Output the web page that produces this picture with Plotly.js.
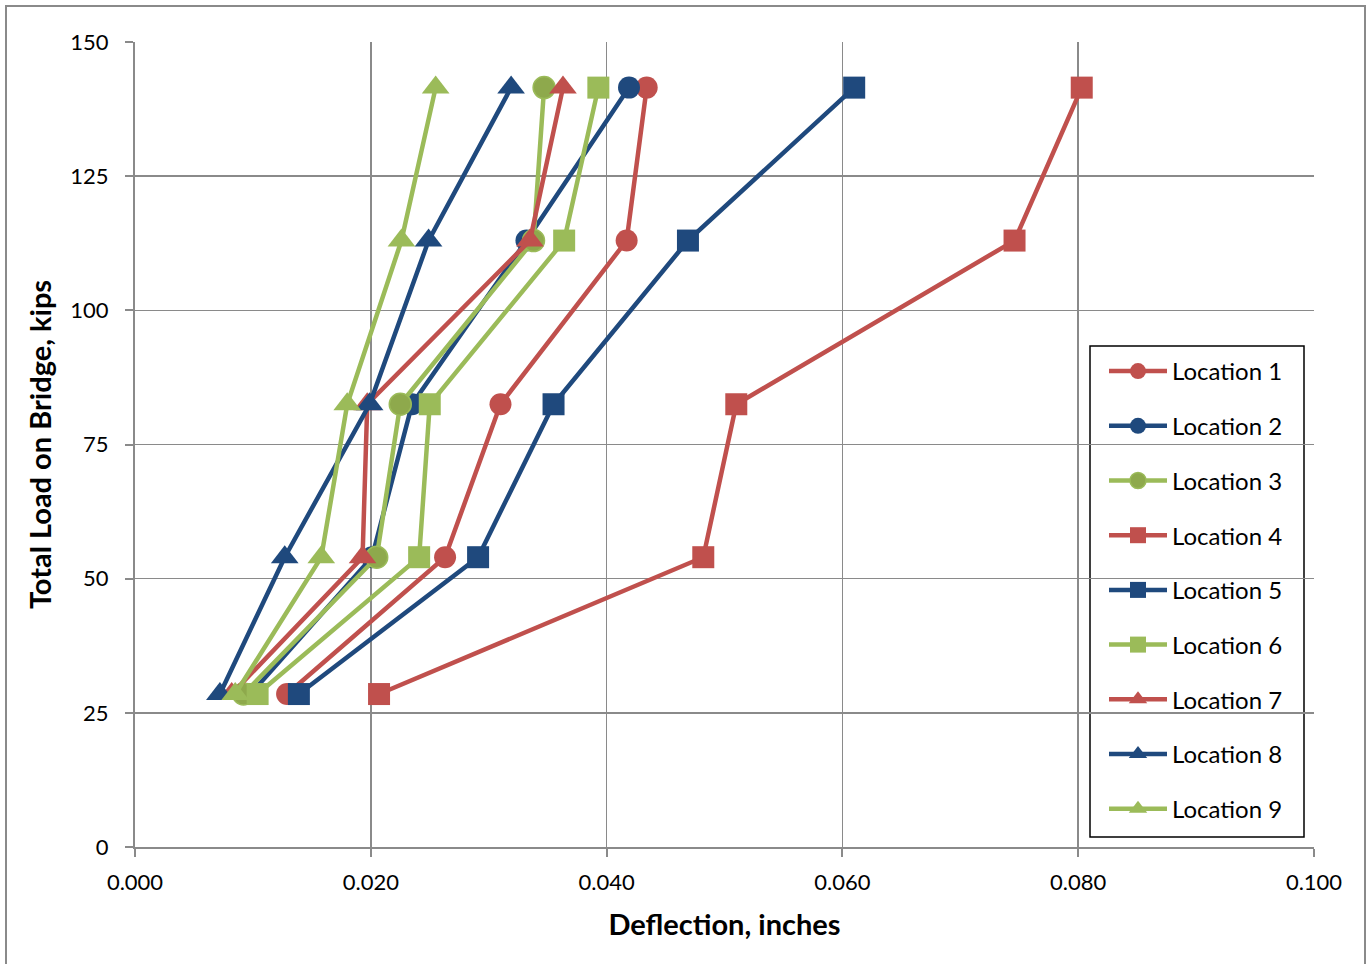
<!DOCTYPE html>
<html>
<head>
<meta charset="utf-8">
<script src="https://cdn.plot.ly/plotly-3.0.1.min.js"></script>
<style>
html,body{margin:0;padding:0;background:#fff;}
#frame{position:absolute;left:5px;top:5px;width:1361px;height:975px;border:2px solid #8a8a8a;box-sizing:border-box;}
#chart{position:absolute;left:0;top:0;width:1371px;height:964px;}
</style>
</head>
<body>
<div id="frame"></div>
<div id="chart"></div>
<script>
// Total load on bridge (kips) for each load step
const loads = [28.5, 54, 82.5, 113, 141.5];

// Deflection (inches) per location
const loc1 = [0.0129, 0.0263, 0.0310, 0.0417, 0.0434];
const loc2 = [0.0098, 0.0201, 0.0235, 0.0332, 0.0419];
const loc3 = [0.0092, 0.0205, 0.0225, 0.0338, 0.0347];
const loc4 = [0.0207, 0.0482, 0.0510, 0.0746, 0.0803];
const loc5 = [0.0139, 0.0291, 0.0355, 0.0469, 0.0610];
const loc6 = [0.0104, 0.0241, 0.0250, 0.0364, 0.0393];
const loc7 = [0.0082, 0.0193, 0.0197, 0.0335, 0.0363];
const loc8 = [0.0072, 0.0127, 0.0199, 0.0249, 0.0319];
const loc9 = [0.0085, 0.0158, 0.0180, 0.0226, 0.0255];

const seriesNames = ["Location 1","Location 2","Location 3","Location 4","Location 5","Location 6","Location 7","Location 8","Location 9"];
const seriesData = [loc1, loc2, loc3, loc4, loc5, loc6, loc7, loc8, loc9];

const yTicks = [0, 25, 50, 75, 100, 125, 150];
const xTicks = [0.000, 0.020, 0.040, 0.060, 0.080, 0.100];

const RED = "#C0504D", BLUE = "#1F497D", GREEN = "#9BBB59";
const colors = [RED, BLUE, GREEN, RED, BLUE, GREEN, RED, BLUE, GREEN];
const symbols = ["circle","circle","circle","square","square","square","triangle-up","triangle-up","triangle-up"];
const sizes = [22,22,22,22,22,22,24,24,24];

const traces = seriesData.map((xs, i) => ({
  x: xs,
  y: loads,
  name: seriesNames[i],
  legendgroup: "g" + i,
  type: "scatter",
  mode: "lines+markers",
  line: {color: colors[i], width: 4.5},
  marker: {
    symbol: symbols[i],
    size: sizes[i],
    color: i === 2 ? "#8EA94C" : colors[i],
    line: {color: colors[i], width: i === 2 ? 1.5 : 0}
  }
}));

const FONT = "Lato, 'Open Sans', sans-serif";

// legend frame in pixel terms, converted to paper fractions of the plot area
const PL = 135, PR = 1314, PT = 42, PB = 847;
const px = v => (v - PL) / (PR - PL);
const py = v => (PB - v) / (PB - PT);

const layout = {
  width: 1371,
  height: 964,
  margin: {l: 135, r: 57, t: 42, b: 117, pad: 0},
  paper_bgcolor: "rgba(0,0,0,0)",
  plot_bgcolor: "#fff",
  font: {family: FONT, color: "#000", size: 22},
  showlegend: true,
  legend: {
    x: px(1104), y: py(349),
    xanchor: "left", yanchor: "top",
    bgcolor: "rgba(0,0,0,0)",
    borderwidth: 0,
    font: {family: FONT, size: 24, color: "#000"},
    itemwidth: 58,
    tracegroupgap: 20.5,
    traceorder: "grouped"
  },
  shapes: [{
    type: "rect", xref: "paper", yref: "paper",
    x0: px(1090), x1: px(1304), y0: py(837), y1: py(346),
    fillcolor: "#fff", line: {color: "#000", width: 1.5},
    layer: "between"
  }],
  xaxis: {
    range: [0, 0.1],
    tickvals: xTicks,
    tickformat: ".3f",
    ticks: "outside", ticklen: 8, tickwidth: 2, tickcolor: "#8a8a8a",
    ticklabelstandoff: 7,
    showgrid: true, gridcolor: "#8a8a8a", gridwidth: 1.6,
    showline: true, linecolor: "#8a8a8a", linewidth: 2,
    zeroline: false,
    tickfont: {family: FONT, size: 22, color: "#000"},
    title: {text: "Deflection, inches", font: {family: FONT, size: 29, color: "#000", weight: "bold"}, standoff: 20},
    automargin: false
  },
  yaxis: {
    range: [0, 150],
    tickvals: yTicks,
    ticks: "outside", ticklen: 8, tickwidth: 2, tickcolor: "#8a8a8a",
    ticklabelstandoff: 12,
    showgrid: true, gridcolor: "#8a8a8a", gridwidth: 1.6,
    showline: true, linecolor: "#8a8a8a", linewidth: 2,
    zeroline: false,
    tickfont: {family: FONT, size: 22, color: "#000"},
    title: {text: "Total Load on Bridge, kips", font: {family: FONT, size: 29, color: "#000", weight: "bold"}, standoff: 10},
    automargin: false
  }
};

Plotly.newPlot("chart", traces, layout, {displayModeBar: false, staticPlot: true});
</script>
</body>
</html>
